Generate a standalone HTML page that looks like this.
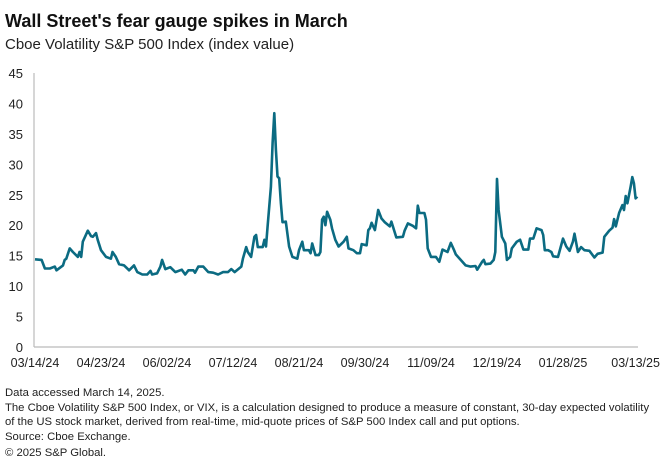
<!DOCTYPE html>
<html><head><meta charset="utf-8"><style>
body{margin:0;background:#fff;width:660px;height:468px;overflow:hidden;font-family:"Liberation Sans",sans-serif;color:#111}
svg{position:absolute;left:0;top:0}
</style></head><body>
<svg width="660" height="468">
<text x="5" y="27" font-size="18" font-weight="bold" fill="#111">Wall Street's fear gauge spikes in March</text>
<text x="5" y="49" font-size="15" fill="#222">Cboe Volatility S&amp;P 500 Index (index value)</text>
<g id="yaxis"></g>
<g id="xaxis"></g>
<line x1="34" y1="73" x2="34" y2="347" stroke="#bbb" stroke-width="1.2"/>
<line x1="34" y1="347" x2="638" y2="347" stroke="#bbb" stroke-width="1.2"/>
<path id="series" fill="none" stroke="#0b6b82" stroke-width="2.6" stroke-linejoin="round"/>
<g font-size="11.3" fill="#222">
<text x="5" y="396">Data accessed March 14, 2025.</text>
<text x="5" y="411">The Cboe Volatility S&amp;P 500 Index, or VIX, is a calculation designed to produce a measure of constant, 30-day expected volatility</text>
<text x="5" y="425">of the US stock market, derived from real-time, mid-quote prices of S&amp;P 500 Index call and put options.</text>
<text x="5" y="440">Source: Cboe Exchange.</text>
<text x="5" y="456">© 2025 S&amp;P Global.</text>
</g>
</svg>
<script>
const yTicks=[0,5,10,15,20,25,30,35,40,45];
const xTickLabels=["03/14/24","04/23/24","06/02/24","07/12/24","08/21/24","09/30/24","11/09/24","12/19/24","01/28/25","03/13/25"];
const xTickDays=[0,40,80,120,160,200,240,280,320,364];
const days=[0,4,6,9,12,13,17,18,19,21,23,26,27,28,29,32,34,35,37,38,40,43,46,47,49,51,54,57,60,62,65,68,70,71,74,76,77,79,82,85,89,91,93,96,97,99,102,105,108,111,114,117,119,121,125,126,128,129,131,133,134,135,138,139,140,141,143,144,145,146,147,148,149,150,152,154,156,159,160,162,163,166,167,168,170,172,173,174,175,176,177,179,180,182,184,187,189,190,193,195,197,198,201,202,203,204,206,208,210,212,215,216,219,223,224,226,229,231,232,233,236,237,238,240,243,245,247,250,252,254,255,258,261,264,267,268,271,272,273,276,278,279,280,281,283,285,286,288,289,292,294,296,299,300,302,304,307,308,309,311,313,314,317,320,322,324,326,327,329,331,333,336,339,341,344,345,348,350,351,352,354,356,357,358,359,361,362,363,364,365];
const values=[14.4,14.3,12.9,12.9,13.2,12.6,13.4,14.3,14.5,16.2,15.6,14.8,15.6,14.8,17.3,19.1,18.2,18.1,18.7,17.6,15.9,14.8,14.5,15.6,14.8,13.6,13.4,12.6,13.4,12.3,11.9,11.9,12.5,11.9,12.1,13.2,14.3,12.8,13.1,12.3,12.7,11.9,12.6,12.6,12.2,13.2,13.2,12.3,12.2,11.9,12.3,12.3,12.8,12.3,13.2,14.5,16.4,15.6,14.8,18.1,18.4,16.4,16.4,17.6,16.5,19.8,26.3,33.5,38.4,32.4,28.0,27.7,23.6,20.5,20.6,16.5,14.8,14.5,15.9,17.3,15.9,15.9,15.4,17.0,15.1,15.1,15.6,20.9,21.4,20.0,22.2,20.9,19.5,17.6,16.5,17.3,18.1,16.2,15.9,15.4,15.4,16.9,16.7,19.2,19.5,20.4,19.2,22.5,21.1,20.5,19.8,20.6,18.0,18.1,19.1,20.3,19.9,19.5,23.2,22.0,22.0,20.9,16.2,14.8,14.8,14.0,16.0,15.6,17.1,15.9,15.2,14.3,13.4,13.2,13.3,12.7,14.0,14.3,13.6,13.7,14.3,15.6,27.6,22.5,18.1,17.0,14.3,14.8,16.2,17.3,17.6,16.0,16.0,17.8,17.8,19.5,19.2,18.4,15.9,15.9,15.6,14.9,14.8,17.8,16.5,15.8,17.3,18.6,15.6,16.4,15.9,15.8,14.7,15.3,15.5,18.1,19.1,19.6,21.0,19.8,22.0,23.3,22.5,24.8,23.6,26.3,27.9,26.9,24.4,24.7];
const xs=d=>35+d*1.65;
const ys=v=>347-v*(274/45);
const NS="http://www.w3.org/2000/svg";
const ya=document.getElementById('yaxis');
yTicks.forEach(t=>{
  const el=document.createElementNS(NS,'text');
  
  
  el.setAttribute('x',23);el.setAttribute('y',ys(t)+5);
  el.setAttribute('text-anchor','end');el.setAttribute('font-size','13');el.setAttribute('fill','#222');
  el.textContent=t;ya.appendChild(el);
});
const xa=document.getElementById('xaxis');
xTickLabels.forEach((l,i)=>{
  const el=document.createElementNS(NS,'text');
  
  
  el.setAttribute('x',xs(xTickDays[i]));el.setAttribute('y',367);
  el.setAttribute('text-anchor','middle');el.setAttribute('font-size','12.5');el.setAttribute('fill','#222');
  el.textContent=l;xa.appendChild(el);
});
document.getElementById('series').setAttribute('d',days.map((d,i)=>(i?'L':'M')+xs(d).toFixed(1)+','+ys(values[i]).toFixed(1)).join(''));
</script>
</body></html>
